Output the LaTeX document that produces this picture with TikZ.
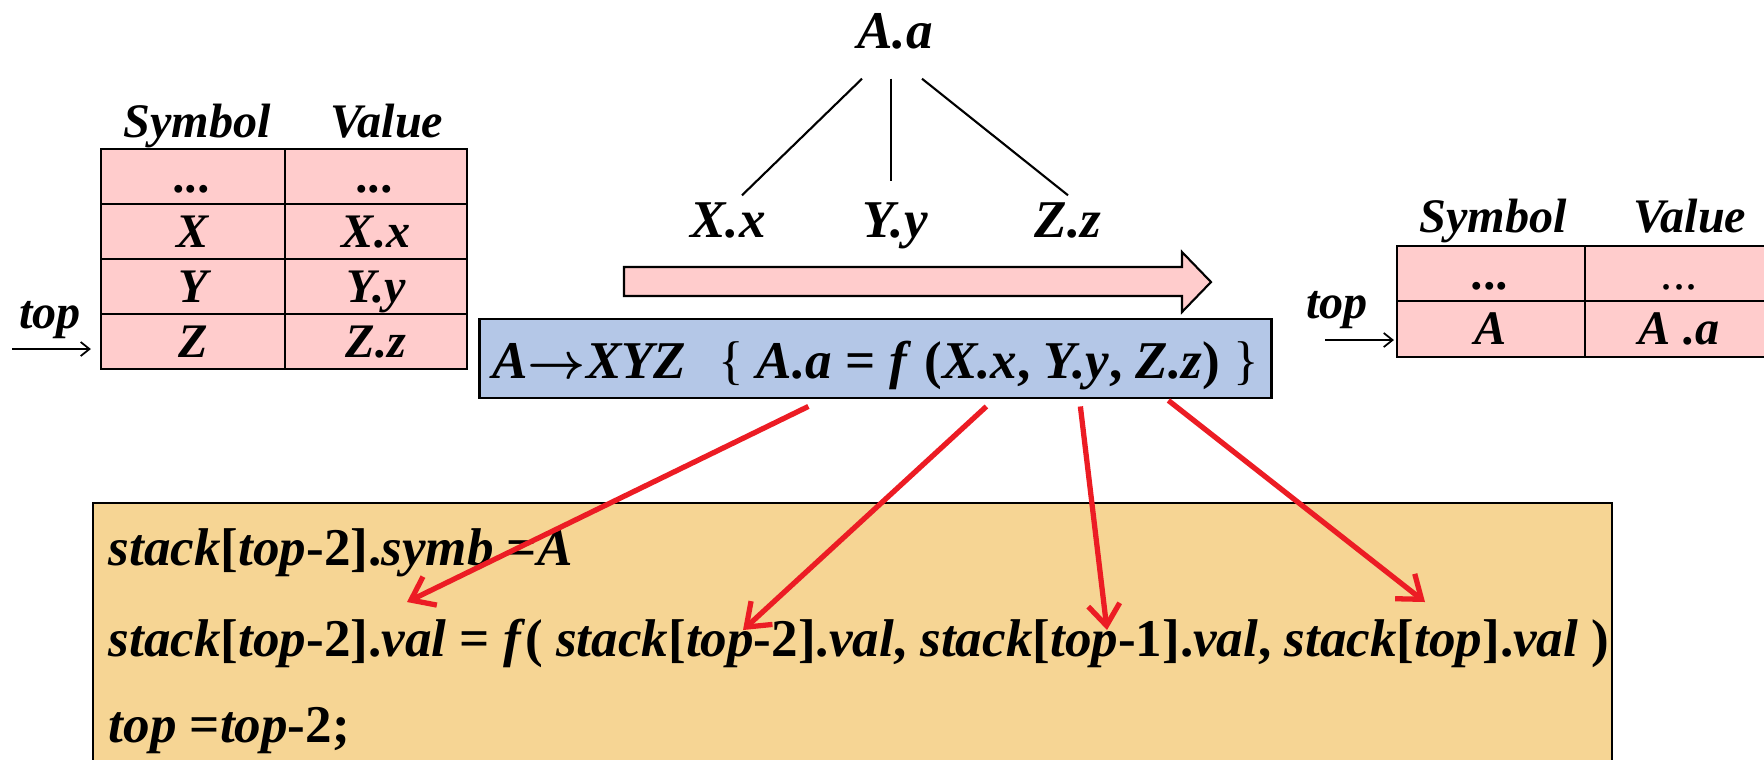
\documentclass[tikz,border=0pt]{standalone}
\usepackage{amsmath}
\usepackage{fontspec}
\setmainfont{Liberation Serif}
\usetikzlibrary{arrows.meta}
\definecolor{stackpink}{HTML}{FFCCCC}
\definecolor{ruleblue}{HTML}{B4C7E7}
\definecolor{codegold}{HTML}{F6D594}
\definecolor{arrred}{HTML}{EC1C24}
\newcommand{\tabfont}{\fontsize{13.7}{16}\selectfont\bfseries\itshape}
\newcommand{\bigfont}{\fontsize{15.1}{18}\selectfont\bfseries}
\newcommand{\stackdots}{...}

\begin{document}
\begin{tikzpicture}[x=0.01cm,y=-0.01cm,
  cell/.style={draw=black,line width=0.6pt,fill=stackpink,minimum height=0.55cm,inner sep=0pt,
    text height=0.38cm,text depth=0.07cm,font=\tabfont},
  hdr/.style={anchor=base,inner sep=0pt,font=\tabfont},
  tree/.style={anchor=base,inner sep=0pt,text height=0.35cm,text depth=0pt,font=\bigfont\itshape},
  codeline/.style={anchor=base west,inner sep=0pt,font=\bigfont},
  redarr/.style={draw=arrred,line width=1.5pt,-{Straight Barb[length=6pt,width=9pt]}},
  toparr/.style={line width=0.5pt,-{Straight Barb[length=2.5pt,width=4pt]}}]
\useasboundingbox (0,0) rectangle (1764,759);
\fill[white] (0,0) rectangle (1764,759);

% stack before the reduction
\node[hdr] at (197,137) {Symbol};
\node[hdr] at (387,137) {Value};
\foreach \s/\v [count=\i] in {\stackdots/\stackdots, X/X.x, Y/Y.y, Z/Z.z} {
  \node[cell,minimum width=1.84cm] (ls\i) at (193,121.5+55*\i) {\s};
  \node[cell,minimum width=1.82cm] (lv\i) at (376,121.5+55*\i) {\v};
}
\node[hdr] (ltop) at (50,328) {top};
\coordinate (ltail) at (12,349);
\draw[toparr] (ltail) -- ([shift={(-9,7.5)}]ls4.west);

% parse tree
\node[tree] (aa) at (895,48) {A.a};
\node[tree] (xx) at (728,237) {X.x};
\node[tree] (yy) at (895,237) {Y.y};
\node[tree] (zz) at (1068,237) {Z.z};
\draw[line width=0.6pt] ([shift={(-33,30)}]aa.south) -- ([shift={(14,-6)}]xx.north);
\draw[line width=0.6pt] ([shift={(-4,30)}]aa.south) -- ([shift={(-4,-20)}]yy.north);
\draw[line width=0.6pt] ([shift={(27,30)}]aa.south) -- ([shift={(0,-6)}]zz.north);

\draw[fill=stackpink,line width=0.6pt] (624,267) -- (1182,267) -- (1182,252) -- (1211,282)
  -- (1182,312) -- (1182,296) -- (624,296) -- cycle;

\node[draw=black,line width=0.8pt,fill=ruleblue,minimum width=7.91cm,minimum height=0.79cm,
  inner sep=0pt,text height=0.48cm,text depth=0.09cm,font=\bigfont] (rule) at (875.5,358.5)
  {\textit{A}$\boldsymbol{\rightarrow}$\textit{XYZ}\hspace{0.6em}{\mdseries\{} \textit{A.a} = \textit{f} (\textit{X.x}, \textit{Y.y}, \textit{Z.z}) {\mdseries\}}};

% stack after the reduction
\node[hdr] at (1493,232) {Symbol};
\node[hdr] at (1690,232) {Value};
\node[cell,minimum width=1.88cm] (rs1) at (1491,273.5) {\stackdots};
\node[cell,minimum width=1.88cm,font=\tabfont\mdseries\upshape] (rv1) at (1679,273.5) {\stackdots};
\node[cell,minimum width=1.88cm,minimum height=0.56cm] (rs2) at (1491,329) {A};
\node[cell,minimum width=1.88cm,minimum height=0.56cm] (rv2) at (1679,329) {A .a};
\node[hdr] (rtop) at (1337,318) {top};
\coordinate (rtail) at (1325,340);
\draw[toparr] (rtail) -- ([shift={(-2,11)}]rs2.west);

% semantic action
\draw[line width=0.8pt,fill=codegold] (93,503) rectangle (1612,800);
\node[codeline] (c1) at (108,565) {\textit{stack}[\textit{top}-2].\textit{symb} =\textit{A}};
\node[codeline] (c2) at (108,656) {\textit{stack}[\textit{top}-2].\textit{val} = \textit{f}( \textit{stack}[\textit{top}-2].\textit{val}, \textit{stack}[\textit{top}-1].\textit{val}, \textit{stack}[\textit{top}].\textit{val} )};
\node[codeline] (c3) at (108,742) {\textit{top} =\textit{top}-2;};

\coordinate (t1) at (407,602);
\coordinate (t2) at (743,630);
\coordinate (t3) at (1107,630);
\coordinate (t4) at (1425,602);
\draw[redarr] ([shift={(330,7)}]rule.south west) -- (t1);
\draw[redarr] ([shift={(508,7)}]rule.south west) -- (t2);
\draw[redarr] ([shift={(602,7)}]rule.south west) -- (t3);
\draw[redarr] ([shift={(690,1)}]rule.south west) -- (t4);
\end{tikzpicture}
\end{document}
